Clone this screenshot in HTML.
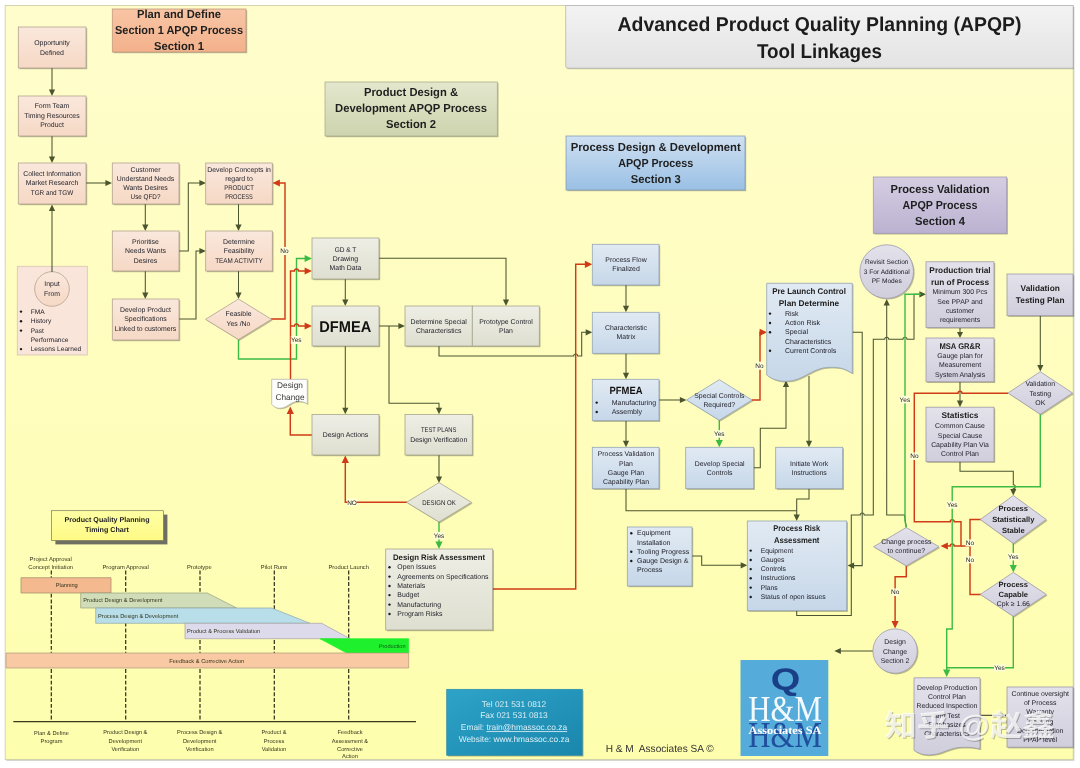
<!DOCTYPE html>
<html lang="en">
<head>
<meta charset="utf-8">
<title>Advanced Product Quality Planning (APQP) Tool Linkages</title>
<style>
html,body{margin:0;padding:0;background:#fff;overflow:hidden}
svg{display:block;filter:blur(0.45px)}
</style>
</head>
<body>
<svg width="1080" height="768" viewBox="0 0 1080 768" font-family="'Liberation Sans', sans-serif" text-rendering="geometricPrecision">
<defs>
<linearGradient id="gs1" x1="0" y1="0" x2="0" y2="1"><stop offset="0" stop-color="#fae8dc"/><stop offset="1" stop-color="#f6d8c5"/></linearGradient>
<linearGradient id="gs2" x1="0" y1="0" x2="0" y2="1"><stop offset="0" stop-color="#eeeee5"/><stop offset="1" stop-color="#dedfd0"/></linearGradient>
<linearGradient id="gs3" x1="0" y1="0" x2="0" y2="1"><stop offset="0" stop-color="#e1eaf3"/><stop offset="1" stop-color="#c6d7e9"/></linearGradient>
<linearGradient id="gs4" x1="0" y1="0" x2="0" y2="1"><stop offset="0" stop-color="#e3e2eb"/><stop offset="1" stop-color="#d0cedc"/></linearGradient>
<linearGradient id="gh1" x1="0" y1="0" x2="0" y2="1"><stop offset="0" stop-color="#f8c5a5"/><stop offset="1" stop-color="#f3b18b"/></linearGradient>
<linearGradient id="gh2" x1="0" y1="0" x2="0" y2="1"><stop offset="0" stop-color="#e3e7cd"/><stop offset="1" stop-color="#cdd4ae"/></linearGradient>
<linearGradient id="gh3" x1="0" y1="0" x2="0" y2="1"><stop offset="0" stop-color="#cfe0f2"/><stop offset="1" stop-color="#9ac0e4"/></linearGradient>
<linearGradient id="gh4" x1="0" y1="0" x2="0" y2="1"><stop offset="0" stop-color="#d5cee2"/><stop offset="1" stop-color="#bbb2d1"/></linearGradient>
<linearGradient id="gti" x1="0" y1="0" x2="0" y2="1"><stop offset="0" stop-color="#f3f3f3"/><stop offset="1" stop-color="#e3e3e3"/></linearGradient>
<linearGradient id="gpage" x1="0" y1="0" x2="0" y2="1"><stop offset="0" stop-color="#fffdcc"/><stop offset="1" stop-color="#fefeae"/></linearGradient>
<linearGradient id="gtc" x1="0" y1="0" x2="0" y2="1"><stop offset="0" stop-color="#ffffa4"/><stop offset="1" stop-color="#fffa86"/></linearGradient>
<linearGradient id="gct" x1="0" y1="0" x2="1" y2="1"><stop offset="0" stop-color="#2ea3c8"/><stop offset="1" stop-color="#1a86ac"/></linearGradient>
</defs>
<rect x="0" y="0" width="1080" height="768" fill="#ffffff"/>
<rect x="6.4" y="6.7" width="1068.0" height="754.1" fill="#b9b9b0" opacity="0.7"/>
<rect x="5.2" y="5.5" width="1068.0" height="754.1" fill="url(#gpage)" stroke="#cfcfa8" stroke-width="0.9"/>
<path d="M566.6,6.5 H1074 V69.3 H569 Q566.6,69.3 566.6,66.9 Z" fill="#000" opacity="0.22"/>
<path d="M565.7,5.5 H1073.2 V68.2 H568 Q565.7,68.2 565.7,65.9 Z" fill="url(#gti)" stroke="#b4b4b4" stroke-width="0.8"/>
<text x="819.5" y="30.5" font-size="20" text-anchor="middle" fill="#1c1c1c" font-weight="bold" textLength="404" lengthAdjust="spacingAndGlyphs">Advanced Product Quality Planning (APQP)</text>
<text x="819.5" y="57.5" font-size="20" text-anchor="middle" fill="#1c1c1c" font-weight="bold" textLength="125" lengthAdjust="spacingAndGlyphs">Tool Linkages</text>
<rect x="113.5" y="10.2" width="133.7" height="43" fill="#000" opacity="0.28"/>
<rect x="112.3" y="9" width="133.7" height="43" fill="url(#gh1)" stroke="#c29a7e" stroke-width="0.8"/>
<text x="179" y="18.3" font-size="11.6" text-anchor="middle" fill="#1f1f1f" font-weight="bold" textLength="84" lengthAdjust="spacingAndGlyphs">Plan and Define</text>
<text x="179" y="34.2" font-size="11.6" text-anchor="middle" fill="#1f1f1f" font-weight="bold" textLength="128" lengthAdjust="spacingAndGlyphs">Section 1 APQP Process</text>
<text x="179" y="50.2" font-size="11.6" text-anchor="middle" fill="#1f1f1f" font-weight="bold" textLength="50" lengthAdjust="spacingAndGlyphs">Section 1</text>
<rect x="326.2" y="83.2" width="172.3" height="54" fill="#000" opacity="0.28"/>
<rect x="325" y="82" width="172.3" height="54" fill="url(#gh2)" stroke="#a9ae90" stroke-width="0.8"/>
<text x="411" y="96.2" font-size="11.6" text-anchor="middle" fill="#1f1f1f" font-weight="bold" textLength="94" lengthAdjust="spacingAndGlyphs">Product Design &amp;</text>
<text x="411" y="112.2" font-size="11.6" text-anchor="middle" fill="#1f1f1f" font-weight="bold" textLength="152" lengthAdjust="spacingAndGlyphs">Development APQP Process</text>
<text x="411" y="128.2" font-size="11.6" text-anchor="middle" fill="#1f1f1f" font-weight="bold" textLength="50" lengthAdjust="spacingAndGlyphs">Section 2</text>
<rect x="567.2" y="137.2" width="179" height="54" fill="#000" opacity="0.28"/>
<rect x="566" y="136" width="179" height="54" fill="url(#gh3)" stroke="#869fb9" stroke-width="0.8"/>
<text x="655.7" y="150.7" font-size="11.6" text-anchor="middle" fill="#1f1f1f" font-weight="bold" textLength="170" lengthAdjust="spacingAndGlyphs">Process Design &amp; Development</text>
<text x="655.7" y="166.7" font-size="11.6" text-anchor="middle" fill="#1f1f1f" font-weight="bold" textLength="75" lengthAdjust="spacingAndGlyphs">APQP Process</text>
<text x="655.7" y="182.7" font-size="11.6" text-anchor="middle" fill="#1f1f1f" font-weight="bold" textLength="50" lengthAdjust="spacingAndGlyphs">Section 3</text>
<rect x="874.5" y="178.2" width="133.4" height="56.3" fill="#000" opacity="0.28"/>
<rect x="873.3" y="177" width="133.4" height="56.3" fill="url(#gh4)" stroke="#a39bb7" stroke-width="0.8"/>
<text x="940" y="193" font-size="11.6" text-anchor="middle" fill="#1f1f1f" font-weight="bold" textLength="99" lengthAdjust="spacingAndGlyphs">Process Validation</text>
<text x="940" y="209" font-size="11.6" text-anchor="middle" fill="#1f1f1f" font-weight="bold" textLength="75" lengthAdjust="spacingAndGlyphs">APQP Process</text>
<text x="940" y="225" font-size="11.6" text-anchor="middle" fill="#1f1f1f" font-weight="bold" textLength="50" lengthAdjust="spacingAndGlyphs">Section 4</text>
<path d="M52,68 L52,90.4" fill="none" stroke="#4b552f" stroke-width="1.05" stroke-linejoin="miter"/>
<polygon points="52,96 48.9,89.4 55.1,89.4" fill="#4b552f"/>
<path d="M52,136 L52,157.4" fill="none" stroke="#4b552f" stroke-width="1.05" stroke-linejoin="miter"/>
<polygon points="52,163 48.9,156.4 55.1,156.4" fill="#4b552f"/>
<path d="M52,272 L52,210.1" fill="none" stroke="#4b552f" stroke-width="1.05" stroke-linejoin="miter"/>
<polygon points="52,204.5 48.9,211.1 55.1,211.1" fill="#4b552f"/>
<path d="M86,183 L106.4,183" fill="none" stroke="#4b552f" stroke-width="1.05" stroke-linejoin="miter"/>
<polygon points="112,183 105.4,179.9 105.4,186.1" fill="#4b552f"/>
<path d="M145.3,204 L145.3,225.4" fill="none" stroke="#4b552f" stroke-width="1.05" stroke-linejoin="miter"/>
<polygon points="145.3,231 142.2,224.4 148.4,224.4" fill="#4b552f"/>
<path d="M145.3,271 L145.3,293.4" fill="none" stroke="#4b552f" stroke-width="1.05" stroke-linejoin="miter"/>
<polygon points="145.3,299 142.2,292.4 148.4,292.4" fill="#4b552f"/>
<path d="M179,251 L188.3,251 L188.3,183 L200.4,183" fill="none" stroke="#4b552f" stroke-width="1.05" stroke-linejoin="miter"/>
<polygon points="206,183 199.4,179.9 199.4,186.1" fill="#4b552f"/>
<path d="M179,319 L196,319 L196,251 L200.4,251" fill="none" stroke="#4b552f" stroke-width="1.05" stroke-linejoin="miter"/>
<polygon points="206,251 199.4,247.9 199.4,254.1" fill="#4b552f"/>
<path d="M238.5,204 L238.5,225.4" fill="none" stroke="#4b552f" stroke-width="1.05" stroke-linejoin="miter"/>
<polygon points="238.5,231 235.4,224.4 241.6,224.4" fill="#4b552f"/>
<path d="M238.5,271 L238.5,293.4" fill="none" stroke="#4b552f" stroke-width="1.05" stroke-linejoin="miter"/>
<polygon points="238.5,299 235.4,292.4 241.6,292.4" fill="#4b552f"/>
<path d="M271,319 L285,319 L285,183 L278.9,183" fill="none" stroke="#d03a17" stroke-width="1.45" stroke-linejoin="miter"/>
<polygon points="272.5,183 279.9,179.4 279.9,186.6" fill="#d03a17"/>
<path d="M238.5,339 L238.5,359 L296.5,359 L296.5,258.5 L305.6,258.5" fill="none" stroke="#3cbb44" stroke-width="1.4" stroke-linejoin="miter"/>
<polygon points="312,258.5 304.6,254.9 304.6,262.1" fill="#3cbb44"/>
<path d="M290.5,380 L290.5,271 L294.5,271 A2.0,2.0 0 0 1 298.5,271 L305.6,271" fill="none" stroke="#d03a17" stroke-width="1.45" stroke-linejoin="miter"/>
<polygon points="312,271 304.6,267.4 304.6,274.6" fill="#d03a17"/>
<path d="M290.5,326 L294.5,326 A2.0,2.0 0 0 1 298.5,326 L305.6,326" fill="none" stroke="#d03a17" stroke-width="1.45" stroke-linejoin="miter"/>
<polygon points="312,326 304.6,322.4 304.6,329.6" fill="#d03a17"/>
<path d="M312,435 L290.3,435 L290.3,412.9" fill="none" stroke="#d03a17" stroke-width="1.45" stroke-linejoin="miter"/>
<polygon points="290.3,406.5 286.7,413.9 293.9,413.9" fill="#d03a17"/>
<path d="M345.3,279 L345.3,300.4" fill="none" stroke="#4b552f" stroke-width="1.05" stroke-linejoin="miter"/>
<polygon points="345.3,306 342.2,299.4 348.4,299.4" fill="#4b552f"/>
<path d="M379,258.3 L506,258.3 L506,300.4" fill="none" stroke="#4b552f" stroke-width="1.05" stroke-linejoin="miter"/>
<polygon points="506,306 502.9,299.4 509.1,299.4" fill="#4b552f"/>
<path d="M379,326 L399.4,326" fill="none" stroke="#4b552f" stroke-width="1.05" stroke-linejoin="miter"/>
<polygon points="405,326 398.4,322.9 398.4,329.1" fill="#4b552f"/>
<path d="M389,326 L389,403.3 L439,403.3 L439,408.7" fill="none" stroke="#4b552f" stroke-width="1.05" stroke-linejoin="miter"/>
<polygon points="439,414.3 435.9,407.7 442.1,407.7" fill="#4b552f"/>
<path d="M345.3,346 L345.3,408.7" fill="none" stroke="#4b552f" stroke-width="1.05" stroke-linejoin="miter"/>
<polygon points="345.3,414.3 342.2,407.7 348.4,407.7" fill="#4b552f"/>
<path d="M439,346 L439,356 L573.7,356 A2.0,2.0 0 0 1 577.7,356 L581.7,356 L581.7,332.3 L586.7,332.3" fill="none" stroke="#4b552f" stroke-width="1.05" stroke-linejoin="miter"/>
<polygon points="592.3,332.3 585.7,329.2 585.7,335.4" fill="#4b552f"/>
<path d="M439,455 L439,477.4" fill="none" stroke="#4b552f" stroke-width="1.05" stroke-linejoin="miter"/>
<polygon points="439,483 435.9,476.4 442.1,476.4" fill="#4b552f"/>
<path d="M407,502.3 L345.3,502.3 L345.3,461.9" fill="none" stroke="#d03a17" stroke-width="1.45" stroke-linejoin="miter"/>
<polygon points="345.3,455.5 341.7,462.9 348.9,462.9" fill="#d03a17"/>
<path d="M439,522 L439,542.6" fill="none" stroke="#3cbb44" stroke-width="1.4" stroke-linejoin="miter"/>
<polygon points="439,549 435.4,541.6 442.6,541.6" fill="#3cbb44"/>
<path d="M492.7,589 L575.7,589 L575.7,264.3 L585.9,264.3" fill="none" stroke="#d03a17" stroke-width="1.45" stroke-linejoin="miter"/>
<polygon points="592.3,264.3 584.9,260.7 584.9,267.9" fill="#d03a17"/>
<path d="M626,285 L626,306.7" fill="none" stroke="#4b552f" stroke-width="1.05" stroke-linejoin="miter"/>
<polygon points="626,312.3 622.9,305.7 629.1,305.7" fill="#4b552f"/>
<path d="M626,353 L626,373.7" fill="none" stroke="#4b552f" stroke-width="1.05" stroke-linejoin="miter"/>
<polygon points="626,379.3 622.9,372.7 629.1,372.7" fill="#4b552f"/>
<path d="M626,420.7 L626,441.7" fill="none" stroke="#4b552f" stroke-width="1.05" stroke-linejoin="miter"/>
<polygon points="626,447.3 622.9,440.7 629.1,440.7" fill="#4b552f"/>
<path d="M659,400 L680.9,400" fill="none" stroke="#4b552f" stroke-width="1.05" stroke-linejoin="miter"/>
<polygon points="686.5,400 679.9,396.9 679.9,403.1" fill="#4b552f"/>
<path d="M752,400 L760,400 L760,332.3 L760.6,332.3" fill="none" stroke="#d03a17" stroke-width="1.45" stroke-linejoin="miter"/>
<polygon points="767,332.3 759.6,328.7 759.6,335.9" fill="#d03a17"/>
<path d="M719.3,420 L719.3,440.9" fill="none" stroke="#3cbb44" stroke-width="1.4" stroke-linejoin="miter"/>
<polygon points="719.3,447.3 715.7,439.9 722.9,439.9" fill="#3cbb44"/>
<path d="M753.7,467.7 L760.3,467.7 L760.3,428.3 L786,428.3 L786,386.1" fill="none" stroke="#4b552f" stroke-width="1.05" stroke-linejoin="miter"/>
<polygon points="786,380.5 782.9,387.1 789.1,387.1" fill="#4b552f"/>
<path d="M809,376 L809,441.7" fill="none" stroke="#4b552f" stroke-width="1.05" stroke-linejoin="miter"/>
<polygon points="809,447.3 805.9,440.7 812.1,440.7" fill="#4b552f"/>
<path d="M626,488.7 L626,510.7 L796.7,510.7" fill="none" stroke="#4b552f" stroke-width="1.05" stroke-linejoin="miter"/>
<path d="M809,488.7 L809,499 L796.7,499 L796.7,515.4" fill="none" stroke="#4b552f" stroke-width="1.05" stroke-linejoin="miter"/>
<polygon points="796.7,521 793.6,514.4 799.8,514.4" fill="#4b552f"/>
<path d="M692,556 L701.7,556 L701.7,565.3 L741.7,565.3" fill="none" stroke="#4b552f" stroke-width="1.05" stroke-linejoin="miter"/>
<polygon points="747.3,565.3 740.7,562.2 740.7,568.4" fill="#4b552f"/>
<path d="M852.3,332.3 L862.2,332.3 L862.2,565.6 L853.1,565.6" fill="none" stroke="#4b552f" stroke-width="1.05" stroke-linejoin="miter"/>
<polygon points="847.5,565.6 854.1,562.5 854.1,568.7" fill="#4b552f"/>
<path d="M796.7,610.7 L796.7,615.5 L851.3,615.5 L851.3,515 L860.2,515 A2.0,2.0 0 0 1 864.2,515 L873.3,515 L873.3,339.3 L884.7,339.3 A2.0,2.0 0 0 1 888.7,339.3 L903,339.3 A2.0,2.0 0 0 1 907,339.3 L914,339.3 L914,294.3 L920.4,294.3" fill="none" stroke="#4b552f" stroke-width="1.05" stroke-linejoin="miter"/>
<polygon points="926,294.3 919.4,291.2 919.4,297.4" fill="#4b552f"/>
<path d="M906.3,527.5 L904.5,515 L886.7,515 L886.7,304.6" fill="none" stroke="#4b552f" stroke-width="1.05" stroke-linejoin="miter"/>
<polygon points="886.7,299 883.6,305.6 889.8,305.6" fill="#4b552f"/>
<path d="M906.3,527.5 L905,521 L905,294.3 L921,294.3" fill="none" stroke="#3cbb44" stroke-width="1.4" stroke-linejoin="miter"/>
<path d="M1040.3,315.7 L1040.3,365.9" fill="none" stroke="#4b552f" stroke-width="1.05" stroke-linejoin="miter"/>
<polygon points="1040.3,371.5 1037.2,364.9 1043.4,364.9" fill="#4b552f"/>
<path d="M960,327.7 L960,333" fill="none" stroke="#4b552f" stroke-width="1.05" stroke-linejoin="miter"/>
<polygon points="960,338 957,332 963,332" fill="#4b552f"/>
<path d="M960,381.7 L960,401.6" fill="none" stroke="#4b552f" stroke-width="1.05" stroke-linejoin="miter"/>
<polygon points="960,407.2 956.9,400.6 963.1,400.6" fill="#4b552f"/>
<path d="M960,461.7 L960,471.2 L1013.3,471.2 L1013.3,484.7 A2.0,2.0 0 0 1 1013.3,488.7 L1013.3,489.9" fill="none" stroke="#4b552f" stroke-width="1.05" stroke-linejoin="miter"/>
<polygon points="1013.3,495.5 1010.2,488.9 1016.4,488.9" fill="#4b552f"/>
<path d="M1008,393.3 L962,393.3 A2.0,2.0 0 0 0 958,393.3 L914.3,393.3 L914.3,521.7 L950.2,521.7 A2.0,2.0 0 0 1 954.2,521.7 L961,521.7 L961,546 L954.2,546 A2.0,2.0 0 0 0 950.2,546 L946.9,546" fill="none" stroke="#d03a17" stroke-width="1.45" stroke-linejoin="miter"/>
<polygon points="940.5,546 947.9,542.4 947.9,549.6" fill="#d03a17"/>
<path d="M981,519.5 L970,519.5 L970,546 L961,546" fill="none" stroke="#d03a17" stroke-width="1.45" stroke-linejoin="miter"/>
<path d="M981,594.4 L970,594.4 L970,546" fill="none" stroke="#d03a17" stroke-width="1.45" stroke-linejoin="miter"/>
<path d="M1040.3,414 L1040.3,486.7 L952.2,486.7 L952.2,629 L946.7,629 L946.7,670.6" fill="none" stroke="#3cbb44" stroke-width="1.4" stroke-linejoin="miter"/>
<polygon points="946.7,677 943.1,669.6 950.3,669.6" fill="#3cbb44"/>
<path d="M1013.3,543 L1013.3,566.1" fill="none" stroke="#3cbb44" stroke-width="1.4" stroke-linejoin="miter"/>
<polygon points="1013.3,572.5 1009.7,565.1 1016.9,565.1" fill="#3cbb44"/>
<path d="M1013.3,616 L1013.3,667.7 L946.7,667.7" fill="none" stroke="#3cbb44" stroke-width="1.4" stroke-linejoin="miter"/>
<path d="M906.3,565.5 L906.3,576.7 L895.1,576.7 L895.1,622.1" fill="none" stroke="#d03a17" stroke-width="1.45" stroke-linejoin="miter"/>
<polygon points="895.1,628.5 891.5,621.1 898.7,621.1" fill="#d03a17"/>
<path d="M873,651 L839.9,651" fill="none" stroke="#4b552f" stroke-width="1.05" stroke-linejoin="miter"/>
<polygon points="834.3,651 840.9,647.9 840.9,654.1" fill="#4b552f"/>
<path d="M980,715.3 L1002.7,715.3" fill="none" stroke="#3a3a30" stroke-width="1.05" stroke-linejoin="miter"/>
<polygon points="1006.7,715.3 1001.7,713 1001.7,717.6" fill="#3a3a30"/>
<rect x="19.5" y="28.2" width="67.7" height="41" fill="#000" opacity="0.28"/>
<rect x="18.3" y="27" width="67.7" height="41" fill="url(#gs1)" stroke="#b3a38e" stroke-width="0.8"/>
<text x="52" y="45.41" font-size="6.9" text-anchor="middle" fill="#1d1d26">Opportunity</text>
<text x="52" y="54.71" font-size="6.9" text-anchor="middle" fill="#1d1d26">Defined</text>
<rect x="19.5" y="97.2" width="67.7" height="40" fill="#000" opacity="0.28"/>
<rect x="18.3" y="96" width="67.7" height="40" fill="url(#gs1)" stroke="#b3a38e" stroke-width="0.8"/>
<text x="52" y="108.42" font-size="6.9" text-anchor="middle" fill="#1d1d26">Form Team</text>
<text x="52" y="117.72" font-size="6.9" text-anchor="middle" fill="#1d1d26">Timing Resources</text>
<text x="52" y="126.92" font-size="6.9" text-anchor="middle" fill="#1d1d26">Product</text>
<rect x="19.5" y="164.2" width="67.7" height="41" fill="#000" opacity="0.28"/>
<rect x="18.3" y="163" width="67.7" height="41" fill="url(#gs1)" stroke="#b3a38e" stroke-width="0.8"/>
<text x="52" y="176.41" font-size="6.9" text-anchor="middle" fill="#1d1d26">Collect Information</text>
<text x="52" y="185.41" font-size="6.9" text-anchor="middle" fill="#1d1d26">Market Research</text>
<text x="52" y="194.72" font-size="6.9" text-anchor="middle" fill="#1d1d26" textLength="42.5" lengthAdjust="spacingAndGlyphs">TGR and TGW</text>
<rect x="113.5" y="164.2" width="66.7" height="41" fill="#000" opacity="0.28"/>
<rect x="112.3" y="163" width="66.7" height="41" fill="url(#gs1)" stroke="#b3a38e" stroke-width="0.8"/>
<text x="145.5" y="171.72" font-size="6.9" text-anchor="middle" fill="#1d1d26">Customer</text>
<text x="145.5" y="181.11" font-size="6.9" text-anchor="middle" fill="#1d1d26">Understand Needs</text>
<text x="145.5" y="190.22" font-size="6.9" text-anchor="middle" fill="#1d1d26">Wants Desires</text>
<text x="145.5" y="199.41" font-size="6.9" text-anchor="middle" fill="#1d1d26" textLength="29.8" lengthAdjust="spacingAndGlyphs">Use QFD?</text>
<rect x="206.9" y="164.2" width="66.6" height="41" fill="#000" opacity="0.28"/>
<rect x="205.7" y="163" width="66.6" height="41" fill="url(#gs1)" stroke="#b3a38e" stroke-width="0.8"/>
<text x="239" y="171.72" font-size="6.9" text-anchor="middle" fill="#1d1d26">Develop Concepts in</text>
<text x="239" y="181.11" font-size="6.9" text-anchor="middle" fill="#1d1d26">regard to</text>
<text x="239" y="190.22" font-size="6.9" text-anchor="middle" fill="#1d1d26" textLength="29.7" lengthAdjust="spacingAndGlyphs">PRODUCT</text>
<text x="239" y="199.41" font-size="6.9" text-anchor="middle" fill="#1d1d26" textLength="27.5" lengthAdjust="spacingAndGlyphs">PROCESS</text>
<rect x="113.5" y="232.2" width="66.7" height="40" fill="#000" opacity="0.28"/>
<rect x="112.3" y="231" width="66.7" height="40" fill="url(#gs1)" stroke="#b3a38e" stroke-width="0.8"/>
<text x="145.5" y="244.11" font-size="6.9" text-anchor="middle" fill="#1d1d26">Prioritise</text>
<text x="145.5" y="253.22" font-size="6.9" text-anchor="middle" fill="#1d1d26">Needs Wants</text>
<text x="145.5" y="262.72" font-size="6.9" text-anchor="middle" fill="#1d1d26">Desires</text>
<rect x="206.9" y="232.2" width="66.6" height="40" fill="#000" opacity="0.28"/>
<rect x="205.7" y="231" width="66.6" height="40" fill="url(#gs1)" stroke="#b3a38e" stroke-width="0.8"/>
<text x="239" y="244.11" font-size="6.9" text-anchor="middle" fill="#1d1d26">Determine</text>
<text x="239" y="253.22" font-size="6.9" text-anchor="middle" fill="#1d1d26">Feasibility</text>
<text x="239" y="262.72" font-size="6.9" text-anchor="middle" fill="#1d1d26" textLength="47.5" lengthAdjust="spacingAndGlyphs">TEAM ACTIVITY</text>
<rect x="113.5" y="300.2" width="66.7" height="41" fill="#000" opacity="0.28"/>
<rect x="112.3" y="299" width="66.7" height="41" fill="url(#gs1)" stroke="#b3a38e" stroke-width="0.8"/>
<text x="145.5" y="312.22" font-size="6.9" text-anchor="middle" fill="#1d1d26">Develop Product</text>
<text x="145.5" y="321.42" font-size="6.9" text-anchor="middle" fill="#1d1d26">Specifications</text>
<text x="145.5" y="330.62" font-size="6.9" text-anchor="middle" fill="#1d1d26">Linked to customers</text>
<polygon points="205.5,319.3 238.5,299 271.5,319.3 238.5,339.6" transform="translate(1.2,1.2)" fill="#000" opacity="0.25"/>
<polygon points="205.5,319.3 238.5,299 271.5,319.3 238.5,339.6" fill="url(#gs1)" stroke="#b3a38e" stroke-width="0.8"/>
<text x="238.5" y="316.42" font-size="6.9" text-anchor="middle" fill="#1d1d26">Feasible</text>
<text x="238.5" y="325.72" font-size="6.9" text-anchor="middle" fill="#1d1d26">Yes /No</text>
<rect x="17.3" y="266.3" width="70" height="88.7" fill="#f9e5d9" stroke="#d8c4b4" stroke-width="0.8"/>
<circle cx="52" cy="289" r="17.3" fill="url(#gs1)" stroke="#b3a38e" stroke-width="0.8"/>
<line x1="52" y1="266" x2="52" y2="272" stroke="#4b552f" stroke-width="1.1"/>
<text x="52" y="286.42" font-size="6.9" text-anchor="middle" fill="#1d1d26">Input</text>
<text x="52" y="295.72" font-size="6.9" text-anchor="middle" fill="#1d1d26">From</text>
<circle cx="21" cy="311.6" r="1.2" fill="#1a1a1a"/>
<text x="30.7" y="313.61" font-size="6.6" text-anchor="start" fill="#1d1d26">FMA</text>
<circle cx="21" cy="321.3" r="1.2" fill="#1a1a1a"/>
<text x="30.7" y="323.31" font-size="6.6" text-anchor="start" fill="#1d1d26">History</text>
<circle cx="21" cy="330.6" r="1.2" fill="#1a1a1a"/>
<text x="30.7" y="332.61" font-size="6.6" text-anchor="start" fill="#1d1d26">Past</text>
<text x="30.7" y="342.01" font-size="6.6" text-anchor="start" fill="#1d1d26">Performance</text>
<circle cx="21" cy="349.1" r="1.2" fill="#1a1a1a"/>
<text x="30.7" y="351.11" font-size="6.6" text-anchor="start" fill="#1d1d26">Lessons Learned</text>
<rect x="280" y="247" width="9" height="8" fill="#ffffd8"/>
<text x="284.5" y="253.28" font-size="6.5" text-anchor="middle" fill="#1d1d26">No</text>
<rect x="290.8" y="336" width="11" height="8" fill="#ffffd8"/>
<text x="296.3" y="342.27" font-size="6.5" text-anchor="middle" fill="#1d1d26">Yes</text>
<path d="M271.7,379.3 L307.3,379.3 L307.3,404 C303.74,401.88 302.32,401.5 298.04,401.5 C290.21,401.5 287.36,408.3 279.53,408.3 C275.97,408.3 273.48,406.5 271.7,404.3 Z" transform="translate(1,1)" fill="#000" opacity="0.25"/>
<path d="M271.7,379.3 L307.3,379.3 L307.3,404 C303.74,401.88 302.32,401.5 298.04,401.5 C290.21,401.5 287.36,408.3 279.53,408.3 C275.97,408.3 273.48,406.5 271.7,404.3 Z" fill="#fdfdfb" stroke="#b8b8b0" stroke-width="0.8"/>
<text x="290" y="388.1" font-size="8.3" text-anchor="middle" fill="#3c3c3c">Design</text>
<text x="290" y="399.6" font-size="8.3" text-anchor="middle" fill="#3c3c3c">Change</text>
<rect x="313.2" y="239.2" width="67" height="41" fill="#000" opacity="0.28"/>
<rect x="312" y="238" width="67" height="41" fill="url(#gs2)" stroke="#a5a690" stroke-width="0.8"/>
<text x="345.5" y="251.72" font-size="6.9" text-anchor="middle" fill="#1d1d26" textLength="21.7" lengthAdjust="spacingAndGlyphs">GD &amp; T</text>
<text x="345.5" y="261.12" font-size="6.9" text-anchor="middle" fill="#1d1d26">Drawing</text>
<text x="345.5" y="270.22" font-size="6.9" text-anchor="middle" fill="#1d1d26">Math Data</text>
<rect x="313.2" y="307.2" width="67" height="40" fill="#000" opacity="0.28"/>
<rect x="312" y="306" width="67" height="40" fill="url(#gs2)" stroke="#a5a690" stroke-width="0.8"/>
<text x="345.3" y="331.6" font-size="15.5" text-anchor="middle" fill="#111" font-weight="bold" textLength="52" lengthAdjust="spacingAndGlyphs">DFMEA</text>
<rect x="406.2" y="307.2" width="67.3" height="40" fill="#000" opacity="0.28"/>
<rect x="405" y="306" width="67.3" height="40" fill="url(#gs2)" stroke="#a5a690" stroke-width="0.8"/>
<text x="438.7" y="324.12" font-size="6.9" text-anchor="middle" fill="#1d1d26">Determine Special</text>
<text x="438.7" y="333.22" font-size="6.9" text-anchor="middle" fill="#1d1d26">Characteristics</text>
<rect x="473.5" y="307.2" width="67" height="40" fill="#000" opacity="0.28"/>
<rect x="472.3" y="306" width="67" height="40" fill="url(#gs2)" stroke="#a5a690" stroke-width="0.8"/>
<text x="506" y="324.12" font-size="6.9" text-anchor="middle" fill="#1d1d26">Prototype Control</text>
<text x="506" y="333.22" font-size="6.9" text-anchor="middle" fill="#1d1d26">Plan</text>
<rect x="313.2" y="415.7" width="67" height="40.5" fill="#000" opacity="0.28"/>
<rect x="312" y="414.5" width="67" height="40.5" fill="url(#gs2)" stroke="#a5a690" stroke-width="0.8"/>
<text x="345.5" y="437.12" font-size="6.9" text-anchor="middle" fill="#1d1d26">Design Actions</text>
<rect x="406.2" y="415.7" width="67.3" height="40.5" fill="#000" opacity="0.28"/>
<rect x="405" y="414.5" width="67.3" height="40.5" fill="url(#gs2)" stroke="#a5a690" stroke-width="0.8"/>
<text x="438.7" y="432.42" font-size="6.9" text-anchor="middle" fill="#1d1d26" textLength="35.5" lengthAdjust="spacingAndGlyphs">TEST PLANS</text>
<text x="438.7" y="441.72" font-size="6.9" text-anchor="middle" fill="#1d1d26">Design Verification</text>
<polygon points="406.5,502.3 439,482.6 471.5,502.3 439,522" transform="translate(1.2,1.2)" fill="#000" opacity="0.25"/>
<polygon points="406.5,502.3 439,482.6 471.5,502.3 439,522" fill="url(#gs2)" stroke="#a5a690" stroke-width="0.8"/>
<text x="439" y="504.92" font-size="6.9" text-anchor="middle" fill="#1d1d26" textLength="33.5" lengthAdjust="spacingAndGlyphs">DESIGN OK</text>
<rect x="347.25" y="498.55" width="9.5" height="7.5" fill="#ffffd8"/>
<text x="352" y="504.57" font-size="6.5" text-anchor="middle" fill="#1d1d26">NO</text>
<rect x="433.5" y="531.95" width="11" height="7.5" fill="#ffffd8"/>
<text x="439" y="537.98" font-size="6.5" text-anchor="middle" fill="#1d1d26">Yes</text>
<rect x="386.9" y="550.2" width="107" height="81" fill="#000" opacity="0.28"/>
<rect x="385.7" y="549" width="107" height="81" fill="url(#gs2)" stroke="#a5a690" stroke-width="0.8"/>
<text x="439" y="559.5" font-size="8" text-anchor="middle" fill="#1d1d1d" font-weight="bold" textLength="92" lengthAdjust="spacingAndGlyphs">Design Risk Assessment</text>
<circle cx="389.5" cy="567.3" r="1.2" fill="#1a1a1a"/>
<text x="397.3" y="569.41" font-size="6.9" text-anchor="start" fill="#1d1d26">Open Issues</text>
<circle cx="389.5" cy="576.6" r="1.2" fill="#1a1a1a"/>
<text x="397.3" y="578.71" font-size="6.9" text-anchor="start" fill="#1d1d26">Agreements on Specifications</text>
<circle cx="389.5" cy="586" r="1.2" fill="#1a1a1a"/>
<text x="397.3" y="588.12" font-size="6.9" text-anchor="start" fill="#1d1d26">Materials</text>
<circle cx="389.5" cy="595.1" r="1.2" fill="#1a1a1a"/>
<text x="397.3" y="597.21" font-size="6.9" text-anchor="start" fill="#1d1d26">Budget</text>
<circle cx="389.5" cy="604.6" r="1.2" fill="#1a1a1a"/>
<text x="397.3" y="606.71" font-size="6.9" text-anchor="start" fill="#1d1d26">Manufacturing</text>
<circle cx="389.5" cy="614" r="1.2" fill="#1a1a1a"/>
<text x="397.3" y="616.12" font-size="6.9" text-anchor="start" fill="#1d1d26">Program Risks</text>
<rect x="593.5" y="245.5" width="66.7" height="40.7" fill="#000" opacity="0.28"/>
<rect x="592.3" y="244.3" width="66.7" height="40.7" fill="url(#gs3)" stroke="#94a5b5" stroke-width="0.8"/>
<text x="626" y="262.42" font-size="6.9" text-anchor="middle" fill="#1d1d26">Process Flow</text>
<text x="626" y="271.42" font-size="6.9" text-anchor="middle" fill="#1d1d26">Finalized</text>
<rect x="593.5" y="313.5" width="66.7" height="41" fill="#000" opacity="0.28"/>
<rect x="592.3" y="312.3" width="66.7" height="41" fill="url(#gs3)" stroke="#94a5b5" stroke-width="0.8"/>
<text x="626" y="330.12" font-size="6.9" text-anchor="middle" fill="#1d1d26">Characteristic</text>
<text x="626" y="339.42" font-size="6.9" text-anchor="middle" fill="#1d1d26">Matrix</text>
<rect x="593.5" y="380.5" width="66.7" height="41.4" fill="#000" opacity="0.28"/>
<rect x="592.3" y="379.3" width="66.7" height="41.4" fill="url(#gs3)" stroke="#94a5b5" stroke-width="0.8"/>
<text x="626" y="394" font-size="10.5" text-anchor="middle" fill="#111" font-weight="bold" textLength="33" lengthAdjust="spacingAndGlyphs">PFMEA</text>
<circle cx="596.7" cy="402.6" r="1.2" fill="#1a1a1a"/>
<text x="611.7" y="404.75" font-size="7" text-anchor="start" fill="#1d1d26">Manufacturing</text>
<circle cx="596.7" cy="412" r="1.2" fill="#1a1a1a"/>
<text x="611.7" y="414.15" font-size="7" text-anchor="start" fill="#1d1d26">Assembly</text>
<rect x="593.5" y="448.5" width="66.7" height="41.4" fill="#000" opacity="0.28"/>
<rect x="592.3" y="447.3" width="66.7" height="41.4" fill="url(#gs3)" stroke="#94a5b5" stroke-width="0.8"/>
<text x="626" y="456.42" font-size="6.9" text-anchor="middle" fill="#1d1d26">Process Validation</text>
<text x="626" y="465.72" font-size="6.9" text-anchor="middle" fill="#1d1d26">Plan</text>
<text x="626" y="474.72" font-size="6.9" text-anchor="middle" fill="#1d1d26">Gauge Plan</text>
<text x="626" y="484.12" font-size="6.9" text-anchor="middle" fill="#1d1d26">Capability Plan</text>
<polygon points="686.5,400 719.3,379.7 752.1,400 719.3,420.3" transform="translate(1.2,1.2)" fill="#000" opacity="0.25"/>
<polygon points="686.5,400 719.3,379.7 752.1,400 719.3,420.3" fill="url(#gs3)" stroke="#94a5b5" stroke-width="0.8"/>
<text x="719.3" y="397.92" font-size="6.9" text-anchor="middle" fill="#1d1d26">Special Controls</text>
<text x="719.3" y="406.92" font-size="6.9" text-anchor="middle" fill="#1d1d26">Required?</text>
<rect x="755" y="361.7" width="9" height="8" fill="#ffffd8"/>
<text x="759.5" y="367.97" font-size="6.5" text-anchor="middle" fill="#1d1d26">No</text>
<rect x="713.8" y="430.25" width="11" height="7.5" fill="#ffffd8"/>
<text x="719.3" y="436.27" font-size="6.5" text-anchor="middle" fill="#1d1d26">Yes</text>
<rect x="686.9" y="448.5" width="68" height="41.4" fill="#000" opacity="0.28"/>
<rect x="685.7" y="447.3" width="68" height="41.4" fill="url(#gs3)" stroke="#94a5b5" stroke-width="0.8"/>
<text x="719.7" y="465.72" font-size="6.9" text-anchor="middle" fill="#1d1d26">Develop Special</text>
<text x="719.7" y="474.72" font-size="6.9" text-anchor="middle" fill="#1d1d26">Controls</text>
<rect x="776.9" y="448.5" width="67" height="41.4" fill="#000" opacity="0.28"/>
<rect x="775.7" y="447.3" width="67" height="41.4" fill="url(#gs3)" stroke="#94a5b5" stroke-width="0.8"/>
<text x="809.2" y="465.72" font-size="6.9" text-anchor="middle" fill="#1d1d26">Initiate Work</text>
<text x="809.2" y="474.72" font-size="6.9" text-anchor="middle" fill="#1d1d26">Instructions</text>
<path d="M766.7,283.3 L852.3,283.3 L852.3,373.4 C843.74,368.22 840.32,367.3 830.04,367.3 C811.21,367.3 804.36,381.3 785.53,381.3 C776.97,381.3 770.98,378.47 766.7,375 Z" transform="translate(1.2,1.2)" fill="#000" opacity="0.25"/>
<path d="M766.7,283.3 L852.3,283.3 L852.3,373.4 C843.74,368.22 840.32,367.3 830.04,367.3 C811.21,367.3 804.36,381.3 785.53,381.3 C776.97,381.3 770.98,378.47 766.7,375 Z" fill="url(#gs3)" stroke="#94a5b5" stroke-width="0.8"/>
<text x="809" y="293.9" font-size="8.3" text-anchor="middle" fill="#1d1d1d" font-weight="bold" textLength="73.7" lengthAdjust="spacingAndGlyphs">Pre Launch Control</text>
<text x="809" y="305.6" font-size="8.3" text-anchor="middle" fill="#1d1d1d" font-weight="bold">Plan Determine</text>
<circle cx="770" cy="313.6" r="1.2" fill="#1a1a1a"/>
<text x="785" y="315.75" font-size="7" text-anchor="start" fill="#1d1d26">Risk</text>
<circle cx="770" cy="323" r="1.2" fill="#1a1a1a"/>
<text x="785" y="325.15" font-size="7" text-anchor="start" fill="#1d1d26">Action Risk</text>
<circle cx="770" cy="332.3" r="1.2" fill="#1a1a1a"/>
<text x="785" y="334.45" font-size="7" text-anchor="start" fill="#1d1d26">Special</text>
<text x="785" y="343.75" font-size="7" text-anchor="start" fill="#1d1d26">Characteristics</text>
<circle cx="770" cy="350.8" r="1.2" fill="#1a1a1a"/>
<text x="785" y="352.95" font-size="7" text-anchor="start" fill="#1d1d26">Current Controls</text>
<rect x="628.5" y="528.2" width="64.7" height="59" fill="#000" opacity="0.28"/>
<rect x="627.3" y="527" width="64.7" height="59" fill="url(#gs3)" stroke="#94a5b5" stroke-width="0.8"/>
<circle cx="631.3" cy="533.3" r="1.2" fill="#1a1a1a"/>
<text x="637" y="535.45" font-size="7" text-anchor="start" fill="#1d1d26">Equipment</text>
<text x="637" y="544.75" font-size="7" text-anchor="start" fill="#1d1d26">Installation</text>
<circle cx="631.3" cy="551.8" r="1.2" fill="#1a1a1a"/>
<text x="637" y="553.95" font-size="7" text-anchor="start" fill="#1d1d26">Tooling Progress</text>
<circle cx="631.3" cy="561" r="1.2" fill="#1a1a1a"/>
<text x="637" y="563.15" font-size="7" text-anchor="start" fill="#1d1d26">Gauge Design &amp;</text>
<text x="637" y="572.25" font-size="7" text-anchor="start" fill="#1d1d26">Process</text>
<rect x="748.5" y="522.2" width="99.4" height="89.7" fill="#000" opacity="0.28"/>
<rect x="747.3" y="521" width="99.4" height="89.7" fill="url(#gs3)" stroke="#94a5b5" stroke-width="0.8"/>
<text x="796.7" y="531.2" font-size="8.3" text-anchor="middle" fill="#1d1d1d" font-weight="bold" textLength="47" lengthAdjust="spacingAndGlyphs">Process Risk</text>
<text x="796.7" y="542.9" font-size="8.3" text-anchor="middle" fill="#1d1d1d" font-weight="bold" textLength="45.5" lengthAdjust="spacingAndGlyphs">Assessment</text>
<circle cx="750.7" cy="550.6" r="1.2" fill="#1a1a1a"/>
<text x="760.7" y="552.68" font-size="6.8" text-anchor="start" fill="#1d1d26">Equipment</text>
<circle cx="750.7" cy="560" r="1.2" fill="#1a1a1a"/>
<text x="760.7" y="562.08" font-size="6.8" text-anchor="start" fill="#1d1d26">Gauges</text>
<circle cx="750.7" cy="569.1" r="1.2" fill="#1a1a1a"/>
<text x="760.7" y="571.18" font-size="6.8" text-anchor="start" fill="#1d1d26">Controls</text>
<circle cx="750.7" cy="578.3" r="1.2" fill="#1a1a1a"/>
<text x="760.7" y="580.38" font-size="6.8" text-anchor="start" fill="#1d1d26">Instructions</text>
<circle cx="750.7" cy="587.6" r="1.2" fill="#1a1a1a"/>
<text x="760.7" y="589.68" font-size="6.8" text-anchor="start" fill="#1d1d26">Plans</text>
<circle cx="750.7" cy="597" r="1.2" fill="#1a1a1a"/>
<text x="760.7" y="599.08" font-size="6.8" text-anchor="start" fill="#1d1d26">Status of open issues</text>
<circle cx="887.9" cy="272.8" r="26.8" fill="#000" opacity="0.25"/>
<circle cx="886.7" cy="271.6" r="26.8" fill="url(#gs4)" stroke="#9d9aa9" stroke-width="0.8"/>
<text x="886.7" y="264.31" font-size="6.6" text-anchor="middle" fill="#1d1d26">Revisit Section</text>
<text x="886.7" y="273.61" font-size="6.6" text-anchor="middle" fill="#1d1d26">3 For Additional</text>
<text x="886.7" y="282.81" font-size="6.6" text-anchor="middle" fill="#1d1d26">PF Modes</text>
<rect x="927.2" y="263" width="68" height="65.7" fill="#000" opacity="0.28"/>
<rect x="926" y="261.8" width="68" height="65.7" fill="url(#gs4)" stroke="#9d9aa9" stroke-width="0.8"/>
<text x="960" y="273.2" font-size="8.3" text-anchor="middle" fill="#1d1d1d" font-weight="bold">Production trial</text>
<text x="960" y="284.6" font-size="8.3" text-anchor="middle" fill="#1d1d1d" font-weight="bold">run of Process</text>
<text x="960" y="294.12" font-size="6.9" text-anchor="middle" fill="#1d1d26">Minimum 300 Pcs</text>
<text x="960" y="303.72" font-size="6.9" text-anchor="middle" fill="#1d1d26">See PPAP and</text>
<text x="960" y="312.92" font-size="6.9" text-anchor="middle" fill="#1d1d26">customer</text>
<text x="960" y="321.92" font-size="6.9" text-anchor="middle" fill="#1d1d26">requirements</text>
<rect x="927.2" y="339.2" width="68" height="43.8" fill="#000" opacity="0.28"/>
<rect x="926" y="338" width="68" height="43.8" fill="url(#gs4)" stroke="#9d9aa9" stroke-width="0.8"/>
<text x="960" y="348.6" font-size="8.3" text-anchor="middle" fill="#1d1d1d" font-weight="bold" textLength="41" lengthAdjust="spacingAndGlyphs">MSA GR&amp;R</text>
<text x="960" y="358.22" font-size="6.9" text-anchor="middle" fill="#1d1d26">Gauge plan for</text>
<text x="960" y="367.42" font-size="6.9" text-anchor="middle" fill="#1d1d26">Measurement</text>
<text x="960" y="376.72" font-size="6.9" text-anchor="middle" fill="#1d1d26">System Analysis</text>
<rect x="1008.2" y="275.2" width="66" height="41.7" fill="#000" opacity="0.28"/>
<rect x="1007" y="274" width="66" height="41.7" fill="url(#gs4)" stroke="#9d9aa9" stroke-width="0.8"/>
<text x="1040.2" y="291.4" font-size="8.3" text-anchor="middle" fill="#1d1d1d" font-weight="bold">Validation</text>
<text x="1040.2" y="303.1" font-size="8.3" text-anchor="middle" fill="#1d1d1d" font-weight="bold">Testing Plan</text>
<polygon points="1008,393 1040.3,371.7 1072.6,393 1040.3,414.3" transform="translate(1.2,1.2)" fill="#000" opacity="0.25"/>
<polygon points="1008,393 1040.3,371.7 1072.6,393 1040.3,414.3" fill="url(#gs4)" stroke="#9d9aa9" stroke-width="0.8"/>
<text x="1040.3" y="386.42" font-size="6.9" text-anchor="middle" fill="#1d1d26">Validation</text>
<text x="1040.3" y="395.72" font-size="6.9" text-anchor="middle" fill="#1d1d26">Testing</text>
<text x="1040.3" y="404.92" font-size="6.9" text-anchor="middle" fill="#1d1d26">OK</text>
<rect x="927.2" y="408.4" width="68" height="54.5" fill="#000" opacity="0.28"/>
<rect x="926" y="407.2" width="68" height="54.5" fill="url(#gs4)" stroke="#9d9aa9" stroke-width="0.8"/>
<text x="960" y="418.4" font-size="8.3" text-anchor="middle" fill="#1d1d1d" font-weight="bold">Statistics</text>
<text x="960" y="428.42" font-size="6.9" text-anchor="middle" fill="#1d1d26">Common Cause</text>
<text x="960" y="437.72" font-size="6.9" text-anchor="middle" fill="#1d1d26">Special Cause</text>
<text x="960" y="446.92" font-size="6.9" text-anchor="middle" fill="#1d1d26">Capability Plan Via</text>
<text x="960" y="455.92" font-size="6.9" text-anchor="middle" fill="#1d1d26">Control Plan</text>
<polygon points="980.3,519.5 1013.3,495.5 1046.3,519.5 1013.3,543.5" transform="translate(1.2,1.2)" fill="#000" opacity="0.25"/>
<polygon points="980.3,519.5 1013.3,495.5 1046.3,519.5 1013.3,543.5" fill="url(#gs4)" stroke="#9d9aa9" stroke-width="0.8"/>
<text x="1013.3" y="511.36" font-size="7.6" text-anchor="middle" fill="#1d1d1d" font-weight="bold">Process</text>
<text x="1013.3" y="521.96" font-size="7.6" text-anchor="middle" fill="#1d1d1d" font-weight="bold">Statistically</text>
<text x="1013.3" y="532.66" font-size="7.6" text-anchor="middle" fill="#1d1d1d" font-weight="bold">Stable</text>
<polygon points="980.3,594.4 1013.3,572.4 1046.3,594.4 1013.3,616.4" transform="translate(1.2,1.2)" fill="#000" opacity="0.25"/>
<polygon points="980.3,594.4 1013.3,572.4 1046.3,594.4 1013.3,616.4" fill="url(#gs4)" stroke="#9d9aa9" stroke-width="0.8"/>
<text x="1013.3" y="586.66" font-size="7.6" text-anchor="middle" fill="#1d1d1d" font-weight="bold">Process</text>
<text x="1013.3" y="597.16" font-size="7.6" text-anchor="middle" fill="#1d1d1d" font-weight="bold">Capable</text>
<text x="1013.3" y="606.41" font-size="6.9" text-anchor="middle" fill="#1d1d26">Cpk ≥ 1.66</text>
<polygon points="873.6,546.7 906.3,527.5 939,546.7 906.3,565.9" transform="translate(1.2,1.2)" fill="#000" opacity="0.25"/>
<polygon points="873.6,546.7 906.3,527.5 939,546.7 906.3,565.9" fill="url(#gs4)" stroke="#9d9aa9" stroke-width="0.8"/>
<text x="906.3" y="544.41" font-size="6.9" text-anchor="middle" fill="#1d1d26">Change process</text>
<text x="906.3" y="553.41" font-size="6.9" text-anchor="middle" fill="#1d1d26">to continue?</text>
<circle cx="896.3" cy="652.3" r="22.2" fill="#000" opacity="0.25"/>
<circle cx="895.1" cy="651.1" r="22.2" fill="url(#gs4)" stroke="#9d9aa9" stroke-width="0.8"/>
<text x="895.1" y="644.41" font-size="6.9" text-anchor="middle" fill="#1d1d26">Design</text>
<text x="895.1" y="653.71" font-size="6.9" text-anchor="middle" fill="#1d1d26">Change</text>
<text x="895.1" y="662.71" font-size="6.9" text-anchor="middle" fill="#1d1d26">Section 2</text>
<rect x="899.4" y="395.85" width="11" height="7.5" fill="#ffffd8"/>
<text x="904.9" y="401.88" font-size="6.5" text-anchor="middle" fill="#1d1d26">Yes</text>
<rect x="909.9" y="452.45" width="9" height="7.5" fill="#ffffd8"/>
<text x="914.4" y="458.47" font-size="6.5" text-anchor="middle" fill="#1d1d26">No</text>
<rect x="946.7" y="501.15" width="11" height="7.5" fill="#ffffd8"/>
<text x="952.2" y="507.17" font-size="6.5" text-anchor="middle" fill="#1d1d26">Yes</text>
<rect x="965.5" y="539.5" width="9" height="7" fill="#ffffd8"/>
<text x="970" y="545.27" font-size="6.5" text-anchor="middle" fill="#1d1d26">No</text>
<rect x="965.5" y="556.3" width="9" height="7" fill="#ffffd8"/>
<text x="970" y="562.07" font-size="6.5" text-anchor="middle" fill="#1d1d26">No</text>
<rect x="1007.8" y="552.95" width="11" height="7.5" fill="#ffffd8"/>
<text x="1013.3" y="558.98" font-size="6.5" text-anchor="middle" fill="#1d1d26">Yes</text>
<rect x="890.6" y="588.45" width="9" height="7.5" fill="#ffffd8"/>
<text x="895.1" y="594.48" font-size="6.5" text-anchor="middle" fill="#1d1d26">No</text>
<rect x="994" y="664.3" width="11" height="7" fill="#ffffd8"/>
<text x="999.5" y="670.07" font-size="6.5" text-anchor="middle" fill="#1d1d26">Yes</text>
<path d="M914,677.8 L980,677.8 L980,749 C973.4,747.55 970.76,747.3 962.84,747.3 C948.32,747.3 943.04,755 928.52,755 C921.92,755 917.3,752.88 914,750.3 Z" transform="translate(1.2,1.2)" fill="#000" opacity="0.25"/>
<path d="M914,677.8 L980,677.8 L980,749 C973.4,747.55 970.76,747.3 962.84,747.3 C948.32,747.3 943.04,755 928.52,755 C921.92,755 917.3,752.88 914,750.3 Z" fill="url(#gs4)" stroke="#9d9aa9" stroke-width="0.8"/>
<text x="947" y="690.41" font-size="6.9" text-anchor="middle" fill="#1d1d26">Develop Production</text>
<text x="947" y="699.41" font-size="6.9" text-anchor="middle" fill="#1d1d26">Control Plan</text>
<text x="947" y="708.41" font-size="6.9" text-anchor="middle" fill="#1d1d26">Reduced Inspection</text>
<text x="947" y="717.71" font-size="6.9" text-anchor="middle" fill="#1d1d26">and Test</text>
<text x="947" y="726.91" font-size="6.9" text-anchor="middle" fill="#1d1d26">Emphasizes</text>
<text x="947" y="736.12" font-size="6.9" text-anchor="middle" fill="#1d1d26">Characteristics</text>
<rect x="1008.2" y="688.2" width="66" height="60.2" fill="#000" opacity="0.28"/>
<rect x="1007" y="687" width="66" height="60.2" fill="url(#gs4)" stroke="#9d9aa9" stroke-width="0.8"/>
<text x="1040.2" y="696.21" font-size="6.9" text-anchor="middle" fill="#1d1d26">Continue oversight</text>
<text x="1040.2" y="705.21" font-size="6.9" text-anchor="middle" fill="#1d1d26">of Process</text>
<text x="1040.2" y="714.41" font-size="6.9" text-anchor="middle" fill="#1d1d26">Warranty</text>
<text x="1040.2" y="723.71" font-size="6.9" text-anchor="middle" fill="#1d1d26">Tracking</text>
<text x="1040.2" y="733.12" font-size="6.9" text-anchor="middle" fill="#1d1d26">Documentation</text>
<text x="1040.2" y="742.41" font-size="6.9" text-anchor="middle" fill="#1d1d26">PPAP level</text>
<rect x="55.4" y="514.6" width="112" height="29.8" fill="#6e6e62"/>
<rect x="51.5" y="510.7" width="112" height="29.8" fill="url(#gtc)" stroke="#77775c" stroke-width="0.7"/>
<text x="107" y="522.4" font-size="7.1" text-anchor="middle" fill="#222" font-weight="bold" textLength="85" lengthAdjust="spacingAndGlyphs">Product Quality Planning</text>
<text x="107" y="532.2" font-size="7.1" text-anchor="middle" fill="#222" font-weight="bold" textLength="44" lengthAdjust="spacingAndGlyphs">Timing Chart</text>
<line x1="51.3" y1="570.5" x2="51.3" y2="721.5" stroke="#2c2c14" stroke-width="1.2" stroke-dasharray="3.9 1.9"/>
<line x1="125.7" y1="570.5" x2="125.7" y2="721.5" stroke="#2c2c14" stroke-width="1.2" stroke-dasharray="3.9 1.9"/>
<line x1="200" y1="570.5" x2="200" y2="721.5" stroke="#2c2c14" stroke-width="1.2" stroke-dasharray="3.9 1.9"/>
<line x1="274.3" y1="570.5" x2="274.3" y2="721.5" stroke="#2c2c14" stroke-width="1.2" stroke-dasharray="3.9 1.9"/>
<line x1="348.7" y1="570.5" x2="348.7" y2="721.5" stroke="#2c2c14" stroke-width="1.2" stroke-dasharray="3.9 1.9"/>
<line x1="13.3" y1="721.7" x2="416" y2="721.7" stroke="#38381c" stroke-width="1.25"/>
<text x="50.7" y="561.03" font-size="5.8" text-anchor="middle" fill="#34341c">Project Approval</text>
<text x="50.7" y="568.53" font-size="5.8" text-anchor="middle" fill="#34341c">Concept Initiation</text>
<text x="125.7" y="568.53" font-size="5.8" text-anchor="middle" fill="#34341c">Program Approval</text>
<text x="199.3" y="568.53" font-size="5.8" text-anchor="middle" fill="#34341c">Prototype</text>
<text x="274" y="568.53" font-size="5.8" text-anchor="middle" fill="#34341c">Pilot Runs</text>
<text x="348.7" y="568.53" font-size="5.8" text-anchor="middle" fill="#34341c">Product Launch</text>
<polygon points="21,577.7 111,577.7 111,593 21,593" fill="#f4b98f" stroke="#9c8a68" stroke-width="0.7"/>
<polygon points="80.7,593 207.3,593 236.7,608 80.7,608" fill="#d1ddb9" stroke="#95a07c" stroke-width="0.7"/>
<polygon points="95.7,608 271.7,608 310,623.3 95.7,623.3" fill="#b8deea" stroke="#8ea8a8" stroke-width="0.7"/>
<polygon points="185,623.3 321.7,623.3 350,638.7 185,638.7" fill="#dddaec" stroke="#a3a0a8" stroke-width="0.7"/>
<polygon points="320,638.7 408.7,638.7 408.7,653 346.7,653" fill="#1ef02d" stroke="#1ef02d" stroke-width="0.7"/>
<polygon points="6,653 408.7,653 408.7,668 6,668" fill="#f8c9a3" stroke="#b09a78" stroke-width="0.7"/>
<text x="66.7" y="587.29" font-size="5.7" text-anchor="middle" fill="#34341c">Planning</text>
<text x="83.3" y="602.4" font-size="5.7" text-anchor="start" fill="#34341c">Product Design &amp; Development</text>
<text x="98" y="617.6" font-size="5.7" text-anchor="start" fill="#34341c">Process Design &amp; Development</text>
<text x="187" y="632.9" font-size="5.7" text-anchor="start" fill="#34341c">Product &amp; Process Validation</text>
<text x="405.5" y="647.7" font-size="5.6" text-anchor="end" fill="#0f5a16">Production</text>
<text x="206.7" y="662.7" font-size="5.7" text-anchor="middle" fill="#34341c">Feedback &amp; Corrective Action</text>
<text x="51.5" y="734.6" font-size="5.7" text-anchor="middle" fill="#34341c">Plan &amp; Define</text>
<text x="51.5" y="742.7" font-size="5.7" text-anchor="middle" fill="#34341c">Program</text>
<text x="125.3" y="734.29" font-size="5.7" text-anchor="middle" fill="#34341c">Product Design &amp;</text>
<text x="125.3" y="742.7" font-size="5.7" text-anchor="middle" fill="#34341c">Development</text>
<text x="125.3" y="750.79" font-size="5.7" text-anchor="middle" fill="#34341c">Verification</text>
<text x="199.7" y="734.29" font-size="5.7" text-anchor="middle" fill="#34341c">Process Design &amp;</text>
<text x="199.7" y="742.7" font-size="5.7" text-anchor="middle" fill="#34341c">Development</text>
<text x="199.7" y="750.79" font-size="5.7" text-anchor="middle" fill="#34341c">Verification</text>
<text x="274" y="734.29" font-size="5.7" text-anchor="middle" fill="#34341c">Product  &amp;</text>
<text x="274" y="742.7" font-size="5.7" text-anchor="middle" fill="#34341c">Process</text>
<text x="274" y="750.79" font-size="5.7" text-anchor="middle" fill="#34341c">Validation</text>
<text x="350" y="734.29" font-size="5.7" text-anchor="middle" fill="#34341c">Feedback</text>
<text x="350" y="742.7" font-size="5.7" text-anchor="middle" fill="#34341c">Assessment &amp;</text>
<text x="350" y="750.79" font-size="5.7" text-anchor="middle" fill="#34341c">Corrective</text>
<text x="350" y="758.29" font-size="5.7" text-anchor="middle" fill="#34341c">Action</text>
<rect x="448" y="690.6" width="135.6" height="66" fill="#000" opacity="0.25"/>
<rect x="446.7" y="689.3" width="135.6" height="66" fill="url(#gct)" stroke="#2a8aa8" stroke-width="0.7"/>
<text x="514" y="706.94" font-size="8.4" text-anchor="middle" fill="#d9eef5">Tel 021 531 0812</text>
<text x="514" y="718.44" font-size="8.4" text-anchor="middle" fill="#d9eef5">Fax 021 531 0813</text>
<text x="514" y="730.1999999999999" font-size="8.4" text-anchor="middle" fill="#d9eef5">Email: <tspan text-decoration="underline">train@hmassoc.co.za</tspan></text>
<text x="514" y="741.94" font-size="8.4" text-anchor="middle" fill="#d9eef5">Website: www.hmassoc.co.za</text>
<text x="605.7" y="752" font-size="10.3" text-anchor="start" fill="#333" textLength="108" lengthAdjust="spacingAndGlyphs" xml:space="preserve" style="white-space:pre">H &amp; M  Associates SA ©</text>
<rect x="740.5" y="660" width="87.8" height="96" fill="#55abda"/>
<text x="785.5" y="689.8" font-size="31" font-weight="bold" text-anchor="middle" fill="#1b3f87" textLength="29.6" lengthAdjust="spacingAndGlyphs">Q</text>
<text x="785" y="747.4" font-size="36.5" text-anchor="middle" fill="#1f4f9d" font-family="'Liberation Serif', serif" textLength="73.6" lengthAdjust="spacingAndGlyphs">H&amp;M</text>
<text x="785" y="721.3" font-size="36.5" text-anchor="middle" fill="#f3faff" font-family="'Liberation Serif', serif" textLength="73.6" lengthAdjust="spacingAndGlyphs">H&amp;M</text>
<text x="785" y="734.2" font-size="11.3" text-anchor="middle" fill="#ffffff" font-weight="bold" font-family="'Liberation Serif', serif" textLength="73" lengthAdjust="spacingAndGlyphs">Associates SA</text>
<text x="885.6" y="737.4" font-size="30" font-weight="700" font-family="'Liberation Sans', 'Noto Sans CJK SC', sans-serif" fill="#000" opacity="0.26" textLength="170" lengthAdjust="spacingAndGlyphs">知乎 @赵鑫</text>
<text x="884.6" y="736.2" font-size="30" font-weight="700" font-family="'Liberation Sans', 'Noto Sans CJK SC', sans-serif" fill="#fff" opacity="0.78" textLength="170" lengthAdjust="spacingAndGlyphs">知乎 @赵鑫</text>
</svg>
</body>
</html>
